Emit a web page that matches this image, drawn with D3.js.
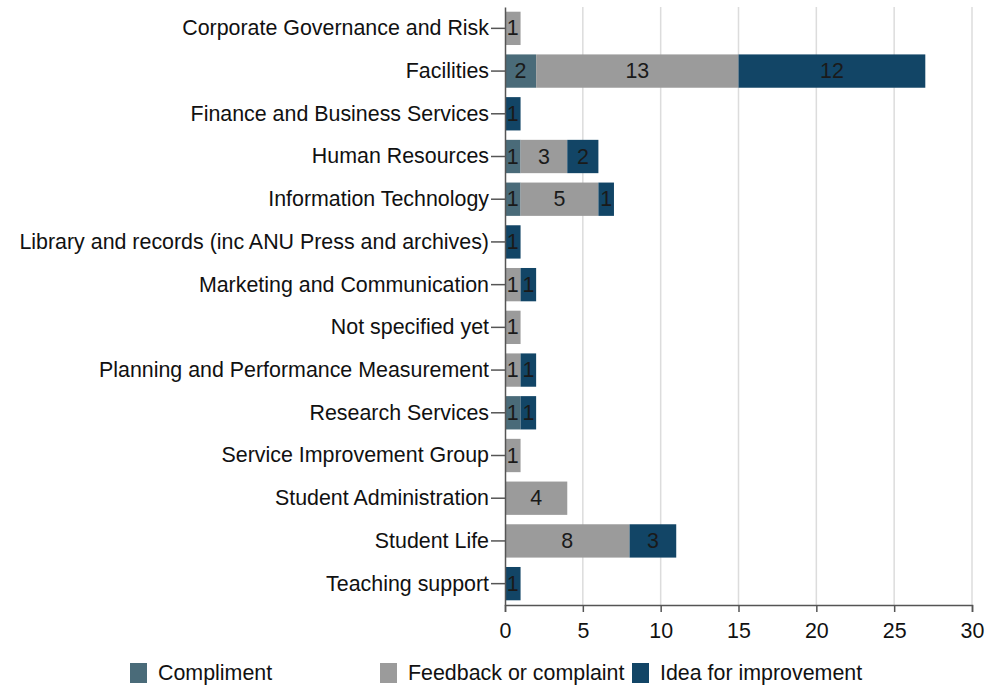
<!DOCTYPE html>
<html><head><meta charset="utf-8">
<script src="https://cdn.jsdelivr.net/npm/d3@7"></script>
<style>body{margin:0;background:#fff}text{font-family:"Liberation Sans",Arial,sans-serif}</style>
</head><body><svg id="c" width="990" height="688"></svg>
<script>
const categories = ["Corporate Governance and Risk","Facilities","Finance and Business Services","Human Resources","Information Technology","Library and records (inc ANU Press and archives)","Marketing and Communication","Not specified yet","Planning and Performance Measurement","Research Services","Service Improvement Group","Student Administration","Student Life","Teaching support"];
const seriesNames = ["Compliment","Feedback or complaint","Idea for improvement"];
const compliment = [0,2,0,1,1,0,0,0,0,1,0,0,0,0];
const feedback   = [1,13,0,3,5,0,1,1,1,0,1,4,8,0];
const idea       = [0,12,1,2,1,1,1,0,1,1,0,0,3,1];
const xTicks = [0,5,10,15,20,25,30];
const colors = ["#4a6b79","#9b9b9b","#124566"];

(function(){
const FS = 21.4;
const svg = d3.select("#c");
const mLeft = 505, mRight = 972, mTop = 7, mBottom = 605;
const x = d3.scaleLinear().domain([0,30]).range([mLeft,mRight]);
const y = d3.scaleBand().domain(categories).range([mTop,mBottom]).paddingInner(0.22).paddingOuter(0.11);

svg.append("g").selectAll("line").data(xTicks.slice(1)).join("line")
  .attr("x1",d=>x(d)).attr("x2",d=>x(d)).attr("y1",mTop).attr("y2",mBottom)
  .attr("stroke","#dcdcdc").attr("stroke-width",1.5);

const rows = categories.map((c,i)=>({cat:c, vals:[compliment[i],feedback[i],idea[i]]}));
const stack = d3.stack().keys([0,1,2]).value((d,k)=>d.vals[k])(rows);

stack.forEach((layer,k)=>{
  const g = svg.append("g");
  layer.forEach((seg,i)=>{
    const v = seg[1]-seg[0];
    if(!v) return;
    g.append("rect").attr("x",x(seg[0])).attr("width",x(seg[1])-x(seg[0]))
      .attr("y",y(categories[i])).attr("height",y.bandwidth()).attr("fill",colors[k]);
    g.append("text").attr("x",(x(seg[0])+x(seg[1]))/2).attr("y",y(categories[i])+y.bandwidth()/2)
      .attr("text-anchor","middle").attr("dominant-baseline","central")
      .attr("font-size",FS).attr("fill","#1a1a1a").text(v);
  });
});

const xa = svg.append("g").attr("transform",`translate(0,${mBottom})`)
  .call(d3.axisBottom(x).tickValues(xTicks).tickSize(7).tickPadding(11));
xa.selectAll("text").attr("font-size",FS).attr("fill","#111").style("font-family","Liberation Sans, Arial, sans-serif");
xa.selectAll("line,path").attr("stroke","#555").attr("stroke-width",1.5);

const ya = svg.append("g").attr("transform",`translate(${mLeft},0)`)
  .call(d3.axisLeft(y).tickSize(14).tickPadding(2).tickSizeOuter(0));
ya.selectAll("text").attr("font-size",FS).attr("fill","#111").style("font-family","Liberation Sans, Arial, sans-serif");
ya.selectAll("line,path").attr("stroke","#555").attr("stroke-width",1.5);

const legX = [130,380,632];
const leg = svg.append("g");
seriesNames.forEach((n,k)=>{
  leg.append("rect").attr("x",legX[k]).attr("y",663).attr("width",17).attr("height",20).attr("fill",colors[k]);
  leg.append("text").attr("x",legX[k]+28).attr("y",673).attr("dominant-baseline","central")
    .attr("font-size",FS).attr("fill","#111").text(n);
});
})();
</script></body></html>
